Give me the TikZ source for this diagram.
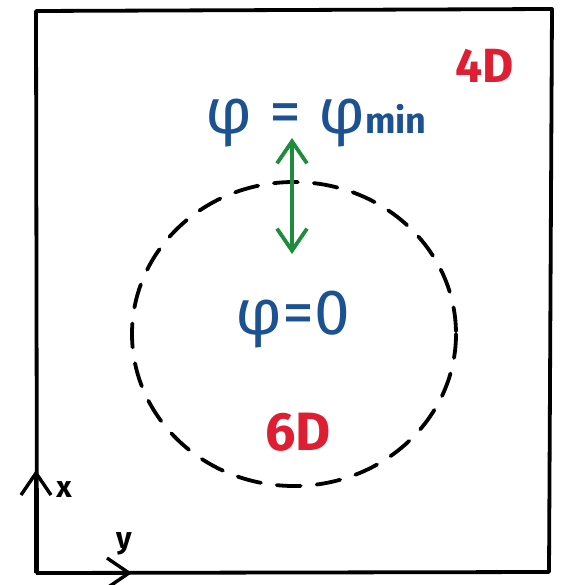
\documentclass[tikz,border=0pt]{standalone}
\usepackage{fontspec}
\setmainfont{Fira Sans}
\usetikzlibrary{arrows.meta}
\definecolor{phiblue}{RGB}{28,82,145}
\definecolor{dred}{RGB}{222,30,50}
\definecolor{arrgreen}{RGB}{30,140,60}
\tikzset{
  frame/.style={line width=3.8pt, line cap=round, line join=round},
  bluelab/.style={text=phiblue, font=\fontsize{64}{70}\selectfont, inner sep=0pt},
  redlab/.style={text=dred, font=\bfseries\fontsize{48}{52}\selectfont, inner sep=0pt},
  axlab/.style={font=\bfseries\fontsize{30}{34}\selectfont, inner sep=0pt},
  axarrow/.style={line width=3.5pt, -{Straight Barb[length=22pt,width=30pt,line width=3.4pt]}},
  greenarrow/.style={draw=arrgreen, line width=4pt, {Straight Barb[length=22pt,width=30pt,line width=3.8pt]}-{Straight Barb[length=22pt,width=30pt,line width=3.8pt]}},
}
\begin{document}
\begin{tikzpicture}[x=1pt,y=-1pt]
\useasboundingbox (0,0) rectangle (565,585);
% frame
\draw[frame] (36,11) -- (552,9) -- (549,572) -- (37,573) -- cycle;
% dashed region
\draw[line width=3.8pt, dash pattern=on 24pt off 16pt, line cap=round] (294,334) ellipse [x radius=162, y radius=152];
% labels
\node[bluelab, anchor=base] (phimin) at (316,134) {φ = φ\fontsize{36}{38}\selectfont\bfseries min};
\node[bluelab, anchor=base] (phizero) at (293,334) {φ=0};
\node[redlab] (four) at (485,66) {4D};
\node[redlab, font=\bfseries\fontsize{54}{58}\selectfont] (six) at (298,432) {6D};
% green arrow
\coordinate (gtop) at (292,138);
\coordinate (gbot) at (292,254);
\draw[greenarrow] (gtop) -- (gbot);
% axes
\coordinate (origin) at (36,573);
\coordinate (xend) at (36,470);
\coordinate (yend) at (132,573);
\draw[axarrow] (origin) -- (xend);
\draw[axarrow] (origin) -- (yend);
\node[axlab] (xl) at (64,490) {x};
\node[axlab] (yl) at (124,544) {y};
\end{tikzpicture}
\end{document}
